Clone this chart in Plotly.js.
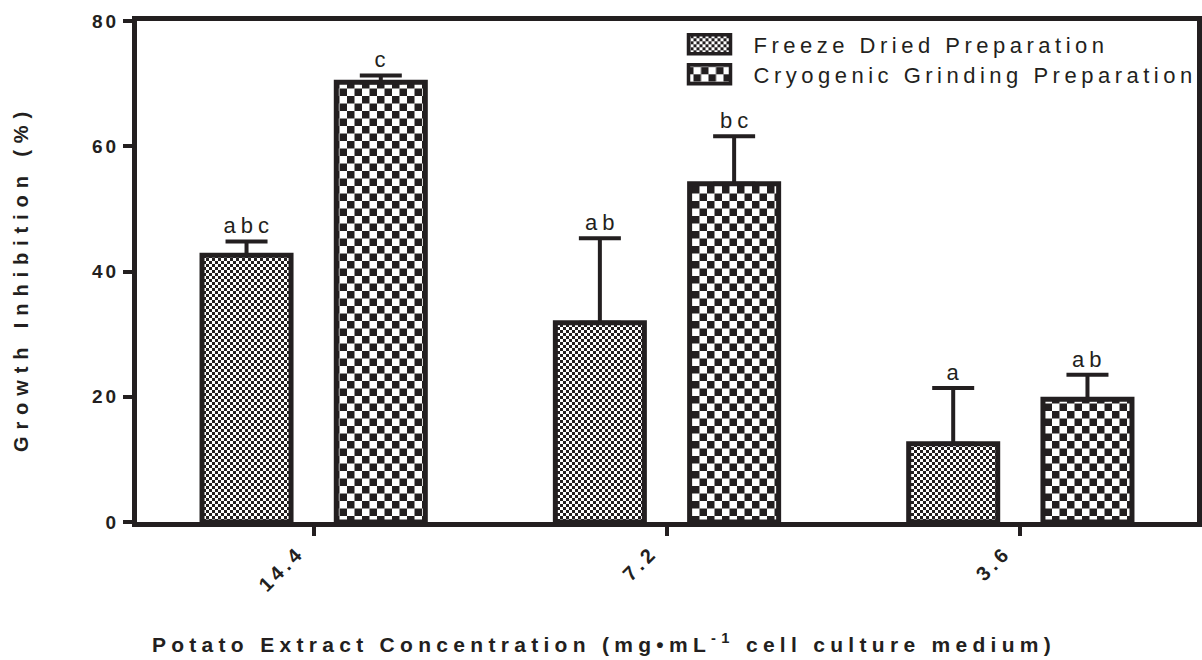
<!DOCTYPE html>
<html>
<head>
<meta charset="utf-8">
<script src="https://cdn.plot.ly/plotly-3.0.1.min.js"></script>
<style>
  html, body { margin: 0; padding: 0; background: #ffffff; }
  #chart { width: 1202px; height: 660px; }
</style>
</head>
<body>
<div id="chart"></div>
<script>
// Growth inhibition by potato extract concentration, two preparation methods
const concentrations = ['14.4', '7.2', '3.6'];
const positions = [0, 1, 2];

const freezeDried = [42.6, 31.8, 12.5];
const freezeDriedErr = [2.2, 13.5, 8.9];
const freezeDriedLetters = ['abc', 'ab', 'a'];

const cryoGrinding = [70.2, 54.0, 19.6];
const cryoGrindingErr = [1.1, 7.6, 3.9];
const cryoGrindingLetters = ['c', 'bc', 'ab'];

const seriesNames = ['Freeze Dried Preparation', 'Cryogenic Grinding Preparation'];

const INK = '#231f20';
const FONT = 'Liberation Sans, Arial, sans-serif';
const SLOT_OFFSET = 0.19;

function barTrace(name, values, errors) {
  return {
    type: 'bar',
    name: name,
    x: positions,
    y: values,
    marker: { color: '#ffffff', line: { color: INK, width: 5 } },
    error_y: {
      type: 'data', symmetric: false, array: errors,
      arrayminus: errors.map(() => 0),
      color: INK, thickness: 4, width: 21
    },
    hoverinfo: 'skip'
  };
}

const data = [
  barTrace(seriesNames[0], freezeDried, freezeDriedErr),
  barTrace(seriesNames[1], cryoGrinding, cryoGrindingErr)
];

// significance letters sit on top of each error bar
function letterAnnotations(values, errors, letters, shift) {
  return positions.map((p, i) => ({
    x: p + shift, y: values[i] + errors[i], xref: 'x', yref: 'y',
    text: letters[i], showarrow: false, yanchor: 'bottom', yshift: 1, xshift: 2,
    font: { family: FONT, size: 22, color: INK }
  }));
}

const annotations = [
  ...letterAnnotations(freezeDried, freezeDriedErr, freezeDriedLetters, -SLOT_OFFSET),
  ...letterAnnotations(cryoGrinding, cryoGrindingErr, cryoGrindingLetters, SLOT_OFFSET)
];

const layout = {
  width: 1202, height: 660,
  margin: { l: 137, r: 5, t: 21, b: 138 },
  paper_bgcolor: '#ffffff', plot_bgcolor: '#ffffff',
  barmode: 'group', bargap: 0.24, bargroupgap: 0.337,
  showlegend: true,
  legend: {
    x: 0.525, y: 0.995, xanchor: 'left', yanchor: 'top',
    font: { family: FONT, size: 22, color: INK },
    itemwidth: 50, tracegroupgap: 0, bgcolor: 'rgba(0,0,0,0)'
  },
  xaxis: {
    type: 'linear', range: [-0.5, 2.5],
    tickvals: positions, ticktext: concentrations, tickangle: -45,
    ticks: 'outside', ticklen: 9, tickwidth: 4, tickcolor: INK,
    showline: true, linewidth: 5, linecolor: INK, mirror: true,
    showgrid: false, zeroline: false,
    tickfont: { family: FONT, size: 20, color: INK, weight: 'bold' },
    title: {
      text: 'Potato Extract Concentration (mg\u2022mL<sup>-1</sup> cell culture medium)',
      font: { family: FONT, size: 21, color: INK, weight: 'bold' },
      standoff: 52
    }
  },
  yaxis: {
    range: [0, 80], tickvals: [0, 20, 40, 60, 80],
    ticks: 'outside', ticklen: 9, tickwidth: 4, tickcolor: INK,
    showline: true, linewidth: 5, linecolor: INK, mirror: true,
    showgrid: false, zeroline: false,
    tickfont: { family: FONT, size: 19, color: INK, weight: 'bold' },
    title: {
      text: 'Growth Inhibition (%)',
      font: { family: FONT, size: 20, color: INK, weight: 'bold' },
      standoff: 66
    }
  },
  annotations: annotations
};

const gd = document.getElementById('chart');

// checkerboard fill defined as an SVG pattern
function addChecker(defs, id, cell) {
  const ns = 'http://www.w3.org/2000/svg';
  const pat = document.createElementNS(ns, 'pattern');
  pat.setAttribute('id', id);
  pat.setAttribute('patternUnits', 'userSpaceOnUse');
  pat.setAttribute('width', 2 * cell);
  pat.setAttribute('height', 2 * cell);
  const bg = document.createElementNS(ns, 'rect');
  bg.setAttribute('width', 2 * cell); bg.setAttribute('height', 2 * cell);
  bg.setAttribute('fill', '#ffffff');
  pat.appendChild(bg);
  [[0, 0], [cell, cell]].forEach(([x, y]) => {
    const r = document.createElementNS(ns, 'rect');
    r.setAttribute('x', x); r.setAttribute('y', y);
    r.setAttribute('width', cell); r.setAttribute('height', cell);
    r.setAttribute('fill', INK);
    pat.appendChild(r);
  });
  defs.appendChild(pat);
}

Plotly.newPlot(gd, data, layout, { staticPlot: true }).then(() => {
  const svg = gd.querySelector('svg.main-svg');
  const defs = svg.querySelector('defs');
  addChecker(defs, 'checkFine', 3);
  addChecker(defs, 'checkCoarse', 7.5);
  const fills = ['url(#checkFine)', 'url(#checkCoarse)'];

  gd.querySelectorAll('.barlayer .trace').forEach((tr, i) => {
    tr.querySelectorAll('.point path').forEach(p => { p.style.fill = fills[i]; });
  });

  // legend: wide patterned swatches, no clipping of the tracked text
  gd.querySelectorAll('.legend [clip-path]').forEach(el => el.removeAttribute('clip-path'));
  const items = gd.querySelectorAll('.legend .traces');
  let firstY = null;
  items.forEach((tr, i) => {
    const m = /translate\(\s*([-\d.]+)[ ,]+([-\d.]+)\s*\)/.exec(tr.getAttribute('transform') || '');
    if (m) {
      const tx = parseFloat(m[1]), ty = parseFloat(m[2]);
      if (firstY === null) firstY = ty;
      tr.setAttribute('transform', 'translate(' + tx + ',' + (firstY + i * 30) + ')');
    }
    tr.querySelectorAll('.legendpoints path').forEach(p => {
      p.setAttribute('d', 'M-35,-9.5H7V9.5H-35Z');
      p.style.fill = fills[i];
      p.style.stroke = INK;
      p.style.strokeWidth = '3.5px';
    });
  });

  // GraphPad-style tracking on the text
  gd.querySelectorAll('g.xtick text').forEach(t => { t.style.letterSpacing = '4px'; });
  gd.querySelectorAll('g.ytick text').forEach(t => { t.style.letterSpacing = '3px'; });
  gd.querySelectorAll('g.xtick').forEach(g => { g.setAttribute('transform', 'translate(-15,-3)'); });
  gd.querySelectorAll('.g-xtitle text').forEach(t => {
    t.style.letterSpacing = '5.3px';
    t.setAttribute('transform', 'translate(-63,0)');
  });
  gd.querySelectorAll('.g-ytitle text').forEach(t => { t.style.letterSpacing = '6.9px'; });
  gd.querySelectorAll('.g-ytitle').forEach(g => { g.setAttribute('transform', 'translate(0,7)'); });
  gd.querySelectorAll('.legendtext').forEach(t => { t.style.letterSpacing = '4.5px'; });
  gd.querySelectorAll('.annotation-text').forEach(t => { t.style.letterSpacing = '5px'; });
});
</script>
</body>
</html>
